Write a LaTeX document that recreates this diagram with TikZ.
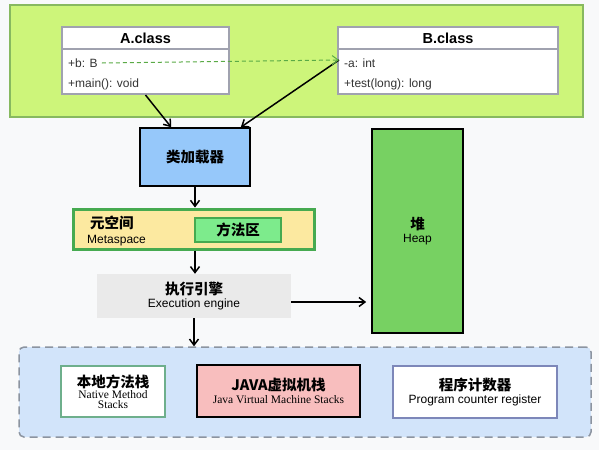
\documentclass[tikz,border=0pt]{standalone}
\usepackage{fontspec}
\setmainfont{Liberation Sans}
\newfontfamily\cjk{Noto Sans CJK SC}
\newfontfamily\timesfont{Liberation Serif}
\usetikzlibrary{arrows.meta, positioning}

\definecolor{pagebg}{RGB}{248,249,250}
\definecolor{limebg}{RGB}{205,245,122}
\definecolor{limeedge}{RGB}{135,185,95}
\definecolor{umledge}{RGB}{160,162,175}
\definecolor{loaderblue}{RGB}{150,200,250}
\definecolor{metayellow}{RGB}{252,233,160}
\definecolor{metaedge}{RGB}{70,170,80}
\definecolor{methodgreen}{RGB}{125,235,140}
\definecolor{execgray}{RGB}{234,234,234}
\definecolor{heapgreen}{RGB}{119,209,98}
\definecolor{stackblue}{RGB}{210,228,250}
\definecolor{stackedge}{RGB}{140,148,160}
\definecolor{nativeedge}{RGB}{110,175,140}
\definecolor{jvmpink}{RGB}{248,190,190}
\definecolor{pcedge}{RGB}{125,135,185}
\definecolor{refgreen}{RGB}{90,170,70}

\newcommand{\cnsize}{\fontsize{14.5}{17}\selectfont}
\newcommand{\ensize}{\fontsize{12}{14}\selectfont}
\newcommand{\enserif}{\timesfont\fontsize{11.5}{13}\selectfont}

\begin{document}
\begin{tikzpicture}[x=1pt, y=-1pt, >={Straight Barb[length=6pt,width=9pt]},
    box/.style={draw, line width=1.6pt, inner sep=0pt, align=center},
    umlhead/.style={draw=umledge, fill=white, line width=2pt, inner sep=0pt,
        font=\bfseries\fontsize{14.5}{17}\selectfont},
    umlbody/.style={draw=umledge, fill=white, line width=2pt, inner sep=0pt},
    umlrow/.style={anchor=west, inner sep=0pt, text=black!80, font=\ensize},
    cn/.style={font=\cjk\bfseries\cnsize},
    flow/.style={->, line width=1.5pt}]
    % Page
    \fill[pagebg] (0,0) rectangle (599,450);
    \useasboundingbox (0,0) rectangle (599,450);

    % Class files
    \node[draw=limeedge, fill=limebg, line width=1.5pt, minimum width=573pt, minimum height=112pt] (src) at (296.5,61) {};
    \node[umlbody, minimum width=167pt, minimum height=45pt] (abody) at (145.5,71.5) {};
    \node[umlhead, minimum width=167pt, minimum height=22pt] (ahead) at (145.5,38) {A.class};
    \node[umlrow] (ab) at (68,63) {+b: B};
    \node[umlrow] (amain) at (68,84) {+main(): void};
    \node[umlbody, minimum width=220pt, minimum height=45pt] (bbody) at (448,71.5) {};
    \node[umlhead, minimum width=220pt, minimum height=22pt] (bhead) at (448,38) {B.class};
    \node[umlrow] (ba) at (344,63) {-a: int};
    \node[umlrow] (btest) at (344,84) {+test(long): long};
    \coordinate (bin) at (339,60);

    % Loader and metaspace
    \node[box, fill=loaderblue, minimum width=110pt, minimum height=58pt, cn] (loader) at (195,157) {类加载器};
    \draw[flow] (abody.south) -- ([xshift=32pt]loader.north west);
    \draw[flow] (bin) -- ([xshift=-10pt]loader.north east);
    \draw[->, refgreen, line width=1pt, dash pattern=on 4pt off 3pt] ([xshift=4pt]ab.east) -- (bin);
    \node[draw=metaedge, fill=metayellow, line width=3pt, minimum width=241pt, minimum height=40pt] (meta) at (193.5,229) {};
    \node[cn, anchor=west, inner sep=0pt] (metacn) at (90,223) {元空间};
    \node[anchor=west, inner sep=0pt, font=\ensize] (metaen) at (87,241) {Metaspace};
    \node[draw=metaedge, fill=methodgreen, line width=2.5pt, minimum width=86pt, minimum height=24pt, cn] (method) at (238,230) {方法区};
    \draw[flow] (loader.south) -- (loader.south |- meta.north);

    % Execution engine and heap
    \node[fill=execgray, minimum width=194pt, minimum height=44pt, inner sep=0pt, align=center] (exec) at (194,296)
        {{\cjk\bfseries\cnsize 执行引擎}\\[1pt]{\ensize Execution engine}};
    \draw[flow] (meta.south -| loader.south) -- (exec.north -| loader.south);
    \node[box, fill=heapgreen, minimum width=91pt, minimum height=204pt] (heap) at (417.5,231)
        {{\cjk\bfseries\cnsize 堆}\\[1pt]{\ensize Heap}};
    \draw[flow, shorten >=5pt] ([yshift=-6pt]exec.east) -- ([yshift=-6pt]exec.east -| heap.west);

    % Thread areas
    \node[draw=stackedge, fill=stackblue, line width=1.5pt, rounded corners=5pt, dash pattern=on 8pt off 5pt,
        minimum width=572pt, minimum height=90pt] (stack) at (305,392) {};
    \draw[flow] (exec.south) -- (exec.south |- stack.north);
    \node[box, draw=nativeedge, fill=white, minimum width=104pt, minimum height=51pt] (native) at (113,391.5)
        {{\cjk\bfseries\cnsize 本地方法栈}\\[-1pt]{\enserif Native Method}\\[-2pt]{\enserif Stacks}};
    \node[box, draw=black, fill=jvmpink, line width=2pt, minimum width=163pt, minimum height=52pt] (jvm) at (278.5,391)
        {{\cjk\bfseries\cnsize JAVA虚拟机栈}\\[1pt]{\enserif Java Virtual Machine Stacks}};
    \node[box, draw=pcedge, fill=white, minimum width=164pt, minimum height=52pt] (pc) at (475,392)
        {{\cjk\bfseries\cnsize 程序计数器}\\[1pt]{\ensize Program counter register}};
\end{tikzpicture}
\end{document}
